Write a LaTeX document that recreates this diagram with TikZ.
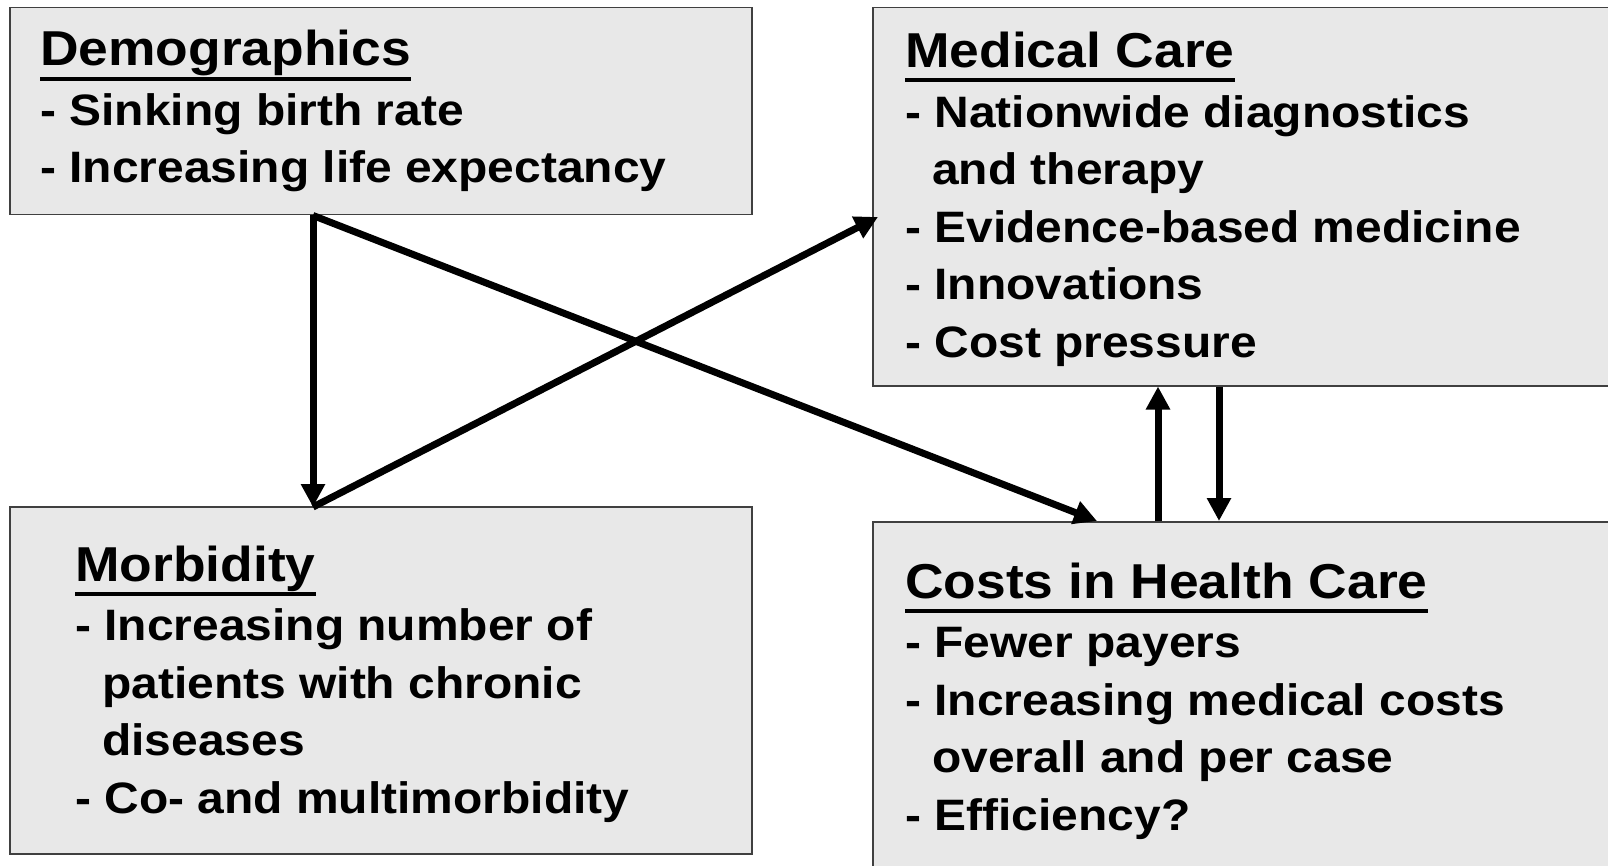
\documentclass[tikz,border=0pt]{standalone}
\usepackage{fontspec}
\newfontfamily\panelfont{Liberation Sans}[FakeStretch=1.09]
\usetikzlibrary{arrows.meta}
\definecolor{panelgray}{RGB}{232,232,232}
\newcommand\paneltitle[1]{\setbox0\hbox{\fontsize{49}{57.5}\selectfont#1}\rlap{\rule[-15pt]{\wd0}{4pt}}\box0}
\newcommand\wrapin{\hspace*{27pt}}
\begin{document}
\begin{tikzpicture}[x=1pt,y=-1pt,
  panel/.style={draw=black!75, line width=1.5pt, fill=panelgray, anchor=north west, inner sep=0pt},
  paneltext/.style={anchor=base west, inner sep=0pt, align=left, font=\panelfont\bfseries\fontsize{44}{57.5}\selectfont},
  link/.style={-{Triangle[length=23pt,width=23pt]}, line width=7pt}]
\useasboundingbox (0,0) rectangle (1608,866);
\clip (0,0) rectangle (1608,866);
\node[panel, minimum width=742pt, minimum height=207pt] (demo) at (9,7) {};
\node[panel, minimum width=760pt, minimum height=378pt] (care) at (872,7) {};
\node[panel, minimum width=742pt, minimum height=347pt] (morb) at (9,506) {};
\node[panel, minimum width=760pt, minimum height=380pt] (cost) at (872,521) {};
\node[paneltext] (demotext) at (40,183) {\paneltitle{Demographics}\\[2pt]- Sinking birth rate\\- Increasing life expectancy};
\node[paneltext] (caretext) at (905,357) {\paneltitle{Medical Care}\\[2pt]- Nationwide diagnostics\\\wrapin and therapy\\- Evidence-based medicine\\- Innovations\\- Cost pressure};
\node[paneltext] (morbtext) at (75,813) {\paneltitle{Morbidity}\\[2pt]- Increasing number of\\\wrapin patients with chronic\\\wrapin diseases\\- Co- and multimorbidity};
\node[paneltext] (costtext) at (905,830) {\paneltitle{Costs in Health Care}\\[2pt]- Fewer payers\\- Increasing medical costs\\\wrapin overall and per case\\- Efficiency?};
\coordinate (d1) at ([xshift=304pt]demo.south west);
\coordinate (m1) at ([xshift=304pt,yshift=-1pt]morb.north west);
\coordinate (k1) at ([xshift=6pt,yshift=-210pt]care.north west);
\coordinate (k2) at ([xshift=286pt]care.south west);
\coordinate (k3) at ([xshift=347pt]care.south west);
\coordinate (c1) at ([xshift=225pt]cost.north west);
\coordinate (c2) at ([xshift=286pt]cost.north west);
\coordinate (c3) at ([xshift=347pt]cost.north west);
\draw[link] (d1) -- (m1);
\draw[link] (d1) -- (c1);
\draw[link] (m1) -- (k1);
\draw[link] (c2) -- (k2);
\draw[link] (k3) -- (c3);
\end{tikzpicture}
\end{document}
